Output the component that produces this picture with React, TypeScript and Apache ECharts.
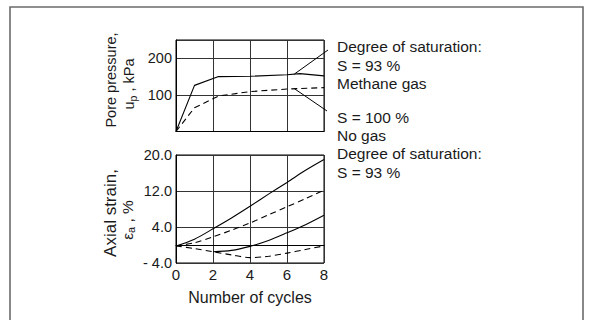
import React, { useEffect, useRef } from "react";
import * as echarts from "echarts";

// ---- data ----
const cycleTicks = [0, 2, 4, 6, 8];

// Pore pressure (kPa) vs number of cycles
const poreSolidX = [0, 1, 2.3, 4, 6, 6.7, 8]; // S = 93 %, methane gas
const poreSolidY = [0, 126, 150, 151, 155, 158, 152];
const poreDashX = [0, 1, 2.3, 4, 6, 8]; // S = 100 %, no gas
const poreDashY = [0, 65, 97, 109, 116, 120];
const poreTickLabels: Record<number, string> = { 100: "100", 200: "200" };

// Axial strain (%) vs number of cycles
const strainX = [0, 1, 2, 3, 4, 5, 6, 7, 8];
const strainUpperSolid = [-0.2, 1.3, 3.6, 6.0, 8.6, 11.3, 13.9, 16.6, 19.0];
const strainUpperDash = [-0.2, 0.5, 1.8, 3.3, 4.9, 6.7, 8.5, 10.3, 12.2];
const strainLowerSolidX = [2, 3, 4, 5, 6, 7, 8];
const strainLowerSolid = [-1.5, -1.2, -0.3, 1.0, 2.7, 4.5, 6.6];
const strainLowerDash = [-0.2, -0.8, -1.5, -2.2, -2.8, -2.5, -1.8, -1.0, -0.2];
const strainTickValues = [-4, 4, 12, 20];
const strainTickLabels = ["- 4.0", "4.0", "12.0", "20.0"];

const annotationLines = [
  "Degree of saturation:",
  "S = 93 %",
  "Methane gas",
  "S = 100 %",
  "No gas",
  "Degree of saturation:",
  "S = 93 %",
];
const annotationY = [46.5, 65, 83.5, 117, 135.5, 153.5, 172];

const zip = (xs: number[], ys: number[]) => xs.map((x, i) => [x, ys[i]]);

export default function App() {
  const ref = useRef<HTMLDivElement>(null);

  useEffect(() => {
    const chart = echarts.init(ref.current!, null, { renderer: "svg" });
    const font = "'Liberation Sans', Arial, Helvetica, sans-serif";
    const ink = "#1a1a1a";
    const gridLine = { lineStyle: { color: "#333", width: 1 } };

    const xBase = {
      type: "value",
      min: 0,
      max: 8,
      interval: 2,
      axisTick: { show: false },
      axisLine: { show: true, lineStyle: { color: "#000", width: 1 } },
      splitLine: { show: true, ...gridLine },
    };

    const solid = { color: "#000", width: 1.1, type: "solid" };
    const dashed = { color: "#000", width: 1.1, type: [6, 4] };

    const option: any = {
      animation: false,
      backgroundColor: "#fff",
      grid: [
        { left: 176, top: 40, width: 148, height: 91.5, show: true, borderColor: "#000", borderWidth: 1 },
        { left: 176, top: 155, width: 148, height: 108, show: true, borderColor: "#000", borderWidth: 1 },
      ],
      xAxis: [
        { ...xBase, gridIndex: 0, axisLabel: { show: false } },
        {
          ...xBase,
          gridIndex: 1,
          axisLabel: {
            show: true,
            fontSize: 15,
            color: ink,
            fontFamily: font,
            margin: 4,
            formatter: (v: number) => (cycleTicks.includes(v) ? String(v) : ""),
          },
        },
      ],
      yAxis: [
        {
          type: "value",
          gridIndex: 0,
          min: 0,
          max: 250,
          interval: 100,
          axisTick: { show: false },
          axisLine: { show: true, lineStyle: { color: "#000", width: 1 } },
          splitLine: { show: true, ...gridLine },
          axisLabel: {
            fontSize: 14.5,
            color: ink,
            fontFamily: font,
            margin: 4,
            formatter: (v: number) => poreTickLabels[v] ?? "",
          },
        },
        {
          type: "value",
          gridIndex: 1,
          min: -4,
          max: 20,
          interval: 8,
          axisTick: { show: false },
          axisLine: { show: true, lineStyle: { color: "#000", width: 1 } },
          splitLine: { show: true, ...gridLine },
          axisLabel: {
            fontSize: 14.5,
            color: ink,
            fontFamily: font,
            margin: 4,
            formatter: (v: number) => {
              const i = strainTickValues.indexOf(v);
              return i >= 0 ? strainTickLabels[i] : "";
            },
          },
        },
      ],
      series: [
        { type: "line", xAxisIndex: 0, yAxisIndex: 0, data: zip(poreSolidX, poreSolidY), showSymbol: false, lineStyle: solid },
        { type: "line", xAxisIndex: 0, yAxisIndex: 0, data: zip(poreDashX, poreDashY), showSymbol: false, lineStyle: dashed },
        { type: "line", xAxisIndex: 1, yAxisIndex: 1, data: zip(strainX, strainUpperSolid), showSymbol: false, smooth: 0.3, lineStyle: solid },
        { type: "line", xAxisIndex: 1, yAxisIndex: 1, data: zip(strainX, strainUpperDash), showSymbol: false, smooth: 0.3, lineStyle: dashed },
        { type: "line", xAxisIndex: 1, yAxisIndex: 1, data: zip(strainLowerSolidX, strainLowerSolid), showSymbol: false, smooth: 0.3, lineStyle: solid },
        { type: "line", xAxisIndex: 1, yAxisIndex: 1, data: zip(strainX, strainLowerDash), showSymbol: false, smooth: 0.3, lineStyle: dashed },
      ],
    };
    chart.setOption(option);

    const p1 = chart.convertToPixel({ gridIndex: 0 }, [6.4, 157]) as number[];
    const p2 = chart.convertToPixel({ gridIndex: 0 }, [6.4, 117]) as number[];

    const textX = 337;
    const annoFont = 15.5;

    const graphic: any[] = [
      // outer frame
      {
        type: "rect",
        shape: { x: 10, y: 7, width: 573, height: 400 },
        style: { fill: "none", stroke: "#6b6b6b", lineWidth: 1.6 },
        silent: true,
      },
      // leader lines
      {
        type: "line",
        shape: { x1: p1[0], y1: p1[1], x2: 328, y2: 50 },
        style: { stroke: "#000", lineWidth: 1 },
      },
      {
        type: "line",
        shape: { x1: p2[0], y1: p2[1], x2: 327, y2: 111 },
        style: { stroke: "#000", lineWidth: 1 },
      },
      ...annotationLines.map((t, i) => ({
        type: "text",
        x: textX,
        y: annotationY[i],
        style: {
          text: t,
          fontSize: annoFont,
          fontFamily: font,
          fill: ink,
          align: "left",
          verticalAlign: "middle",
        },
      })),
      // x axis title
      {
        type: "text",
        x: 250,
        y: 297,
        style: {
          text: "Number of cycles",
          fontSize: 16,
          fontFamily: font,
          fill: ink,
          align: "center",
          verticalAlign: "middle",
        },
      },
      // y axis titles (rotated)
      {
        type: "text",
        x: 111,
        y: 80,
        rotation: Math.PI / 2,
        style: {
          text: "Pore pressure,",
          fontSize: 14.5,
          fontFamily: font,
          fill: ink,
          align: "center",
          verticalAlign: "middle",
        },
      },
      {
        type: "text",
        x: 129,
        y: 84,
        rotation: Math.PI / 2,
        style: {
          text: "{m|u}{s|p}{m| , kPa}",
          fontFamily: font,
          fill: ink,
          align: "center",
          verticalAlign: "middle",
          rich: {
            m: { fontSize: 14.5, lineHeight: 18, fontFamily: font, fill: ink },
            s: { fontSize: 10.5, lineHeight: 8, verticalAlign: "bottom", fontFamily: font, fill: ink },
          },
        },
      },
      {
        type: "text",
        x: 110,
        y: 213,
        rotation: Math.PI / 2,
        style: {
          text: "Axial strain,",
          fontSize: 17,
          fontFamily: font,
          fill: ink,
          align: "center",
          verticalAlign: "middle",
        },
      },
      {
        type: "text",
        x: 127,
        y: 220,
        rotation: Math.PI / 2,
        style: {
          text: "{m|ε}{s|a}{m| , %}",
          fontFamily: font,
          fill: ink,
          align: "center",
          verticalAlign: "middle",
          rich: {
            m: { fontSize: 15.5, lineHeight: 18, fontFamily: font, fill: ink },
            s: { fontSize: 11, lineHeight: 8, verticalAlign: "bottom", fontFamily: font, fill: ink },
          },
        },
      },
    ];
    chart.setOption({ graphic });

    return () => chart.dispose();
  }, []);

  return (
    <div
      ref={ref}
      style={{ position: "fixed", left: 0, top: 0, width: 589, height: 320, background: "#fff" }}
    />
  );
}
